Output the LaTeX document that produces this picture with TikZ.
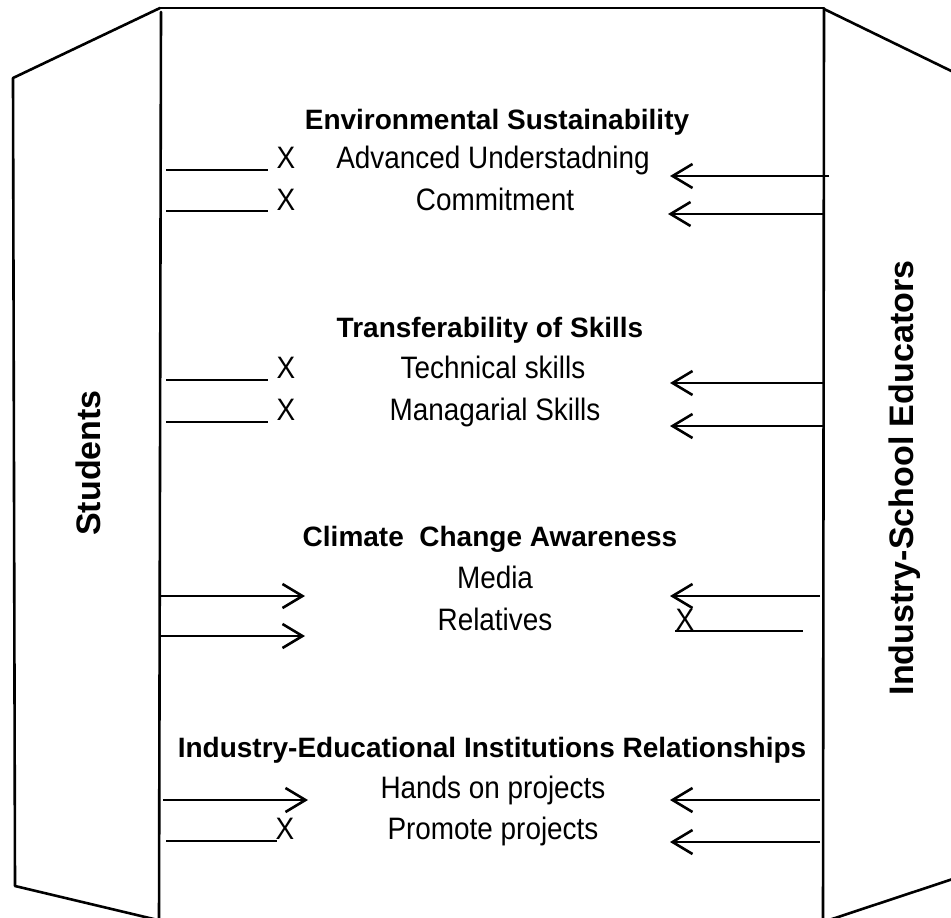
\documentclass[tikz,border=0pt]{standalone}
\usepackage{fontspec}
\setmainfont{Liberation Sans}
\newfontfamily\condfont[FakeStretch=0.9]{Liberation Sans}
\usetikzlibrary{arrows.meta}
\tikzset{
  frameline/.style={line width=2.6pt, line cap=round, line join=round},
  blankline/.style={line width=2.5pt},
  arr/.style={line width=2.6pt, -{Straight Barb[length=20pt,width=24pt,line width=2.6pt]}},
  heading/.style={font=\bfseries\fontsize{28}{30}\selectfont, anchor=base, inner sep=0pt},
  item/.style={font=\condfont\fontsize{31}{33}\selectfont, anchor=base, inner sep=0pt},
  sidelabel/.style={font=\bfseries\fontsize{34}{36}\selectfont, rotate=90, inner sep=0pt}
}
\begin{document}
\begin{tikzpicture}[x=1pt,y=-1pt]
\useasboundingbox (0,0) rectangle (951,918);
\clip (0,0) rectangle (951,918);
% frame
\coordinate (tl) at (160,8);
\coordinate (tr) at (824,8);
\draw[frameline] (tl) -- (tr);
\draw[frameline] (tl) -- (13,78) -- (15,886) -- (162,921);
\draw[frameline] (161,12) -- (159,925);
\draw[frameline] (824,9) -- (823,925);
\draw[frameline] (824,9) -- (980,85);
\draw[frameline] (823,922) -- (980,870);
% side labels
\node[sidelabel] (students) at (88,463) {Students};
\node[sidelabel] (educators) at (905,478) {Industry-School Educators};
% Environmental Sustainability
\node[heading] (h1) at (497,129) {Environmental Sustainability};
\node[item] (i11) at (493,168) {Advanced Understadning};
\node[item] (i12) at (495,210) {Commitment};
\node[item] (x11) at (286,168) {X};
\node[item] (x12) at (286,210) {X};
\coordinate (l11a) at (166,170); \coordinate (l11b) at (268,170);
\coordinate (l12a) at (166,211); \coordinate (l12b) at (268,211);
\draw[blankline] (l11a) -- (l11b);
\draw[blankline] (l12a) -- (l12b);
\coordinate (r11a) at (829,176); \coordinate (r11b) at (670,176);
\coordinate (r12a) at (824,214); \coordinate (r12b) at (668,214);
\draw[arr] (r11a) -- (r11b);
\draw[arr] (r12a) -- (r12b);
% Transferability of Skills
\node[heading] (h2) at (490,337) {Transferability of Skills};
\node[item] (i21) at (493,378) {Technical skills};
\node[item] (i22) at (495,420) {Managarial Skills};
\node[item] (x21) at (286,378) {X};
\node[item] (x22) at (286,420) {X};
\coordinate (l21a) at (166,380); \coordinate (l21b) at (268,380);
\coordinate (l22a) at (166,422); \coordinate (l22b) at (268,422);
\draw[blankline] (l21a) -- (l21b);
\draw[blankline] (l22a) -- (l22b);
\coordinate (r21a) at (824,383); \coordinate (r21b) at (670,383);
\coordinate (r22a) at (824,426); \coordinate (r22b) at (670,426);
\draw[arr] (r21a) -- (r21b);
\draw[arr] (r22a) -- (r22b);
% Climate Change Awareness
\node[heading] (h3) at (490,546) {Climate\ \ Change Awareness};
\node[item] (i31) at (495,588) {Media};
\node[item] (i32) at (495,630) {Relatives};
\coordinate (s31a) at (160,596); \coordinate (s31b) at (305,596);
\coordinate (s32a) at (160,636); \coordinate (s32b) at (305,636);
\draw[arr] (s31a) -- (s31b);
\draw[arr] (s32a) -- (s32b);
\coordinate (r31a) at (820,596); \coordinate (r31b) at (670,596);
\draw[arr] (r31a) -- (r31b);
\node[item] (x32) at (685,630) {X};
\coordinate (l32a) at (675,631); \coordinate (l32b) at (803,631);
\draw[blankline] (l32a) -- (l32b);
% Industry-Educational Institutions Relationships
\node[heading] (h4) at (492,757) {Industry-Educational Institutions Relationships};
\node[item] (i41) at (493,798) {Hands on projects};
\node[item] (i42) at (493,839) {Promote projects};
\coordinate (s41a) at (163,800); \coordinate (s41b) at (308,800);
\draw[arr] (s41a) -- (s41b);
\node[item] (x42) at (285,839) {X};
\coordinate (l42a) at (166,841); \coordinate (l42b) at (277,841);
\draw[blankline] (l42a) -- (l42b);
\coordinate (r41a) at (820,800); \coordinate (r41b) at (670,800);
\coordinate (r42a) at (820,842); \coordinate (r42b) at (670,842);
\draw[arr] (r41a) -- (r41b);
\draw[arr] (r42a) -- (r42b);
\end{tikzpicture}
\end{document}
